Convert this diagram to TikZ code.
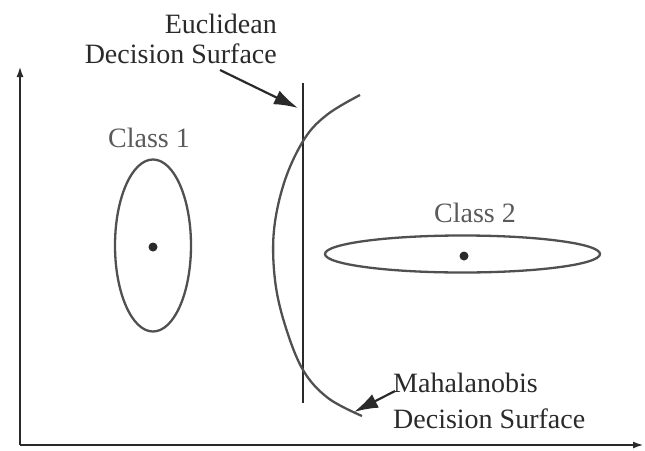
\documentclass[tikz,border=0pt]{standalone}
\usepackage{fontspec}
\setmainfont{Liberation Serif}
\usetikzlibrary{arrows.meta}
\definecolor{inkdark}{HTML}{2A2A2A}
\definecolor{inkgray}{HTML}{505050}
\definecolor{labgray}{HTML}{5A5A5A}
\begin{document}
\begin{tikzpicture}[x=1pt,y=-1pt,
  lbl/.style={inner sep=0pt,font=\fontsize{28}{31}\selectfont,text=inkdark},
  clbl/.style={inner sep=0pt,font=\fontsize{28}{31}\selectfont,text=labgray},
  axis/.style={draw=inkdark,line width=2.4pt,-{Latex[length=11pt,width=7pt]}},
  curve/.style={draw=inkgray,line width=2.3pt},
  pointer/.style={draw=inkdark,line width=2.2pt,-{Latex[length=24pt,width=15pt]}},
  dotc/.style={circle,fill=inkdark,inner sep=0pt,minimum size=9pt}]
\useasboundingbox (0,0) rectangle (645,450);
% axes
\coordinate (O) at (20,445);
\coordinate (Ytop) at (20,66);
\coordinate (Xend) at (644,445);
\draw[axis] (O) -- (Ytop);
\draw[axis] (O) -- (Xend);
% Euclidean decision surface
\coordinate (Etop) at (303,83);
\coordinate (Ebot) at (303,403);
\draw[draw=inkdark,line width=2.6pt] (Etop) -- (Ebot);
% Mahalanobis decision surface
\draw[curve] plot[smooth,tension=0.6] coordinates
  {(360,95) (328,114) (305,138) (285,180) (274,230) (275,280) (285,325) (303,370) (328,398) (362,416)};
% class 1
\draw[curve] (153,245.5) ellipse [x radius=38pt, y radius=86pt];
\node[dotc] (c1) at (153,247) {};
\node[clbl,anchor=base] (class1) at (149,147) {Class 1};
% class 2
\draw[curve] (462.5,254) ellipse [x radius=137.5pt, y radius=18.5pt];
\node[dotc] (c2) at (464,256) {};
\node[clbl,anchor=base] (class2) at (475,222) {Class 2};
% labels
\node[lbl,anchor=base east] (eu1) at (277,33) {Euclidean};
\node[lbl,anchor=base east] (eu2) at (277,63) {Decision Surface};
\node[lbl,anchor=base west] (ma1) at (393,392) {Mahalanobis};
\node[lbl,anchor=base west] (ma2) at (393,428) {Decision Surface};
% pointers
\coordinate (Efrom) at (220,70);
\coordinate (Eto) at (298,108);
\draw[pointer] (Efrom) -- (Eto);
\coordinate (Mfrom) at (395,391);
\coordinate (Mto) at (354,412);
\draw[pointer] (Mfrom) -- (Mto);
\end{tikzpicture}
\end{document}
